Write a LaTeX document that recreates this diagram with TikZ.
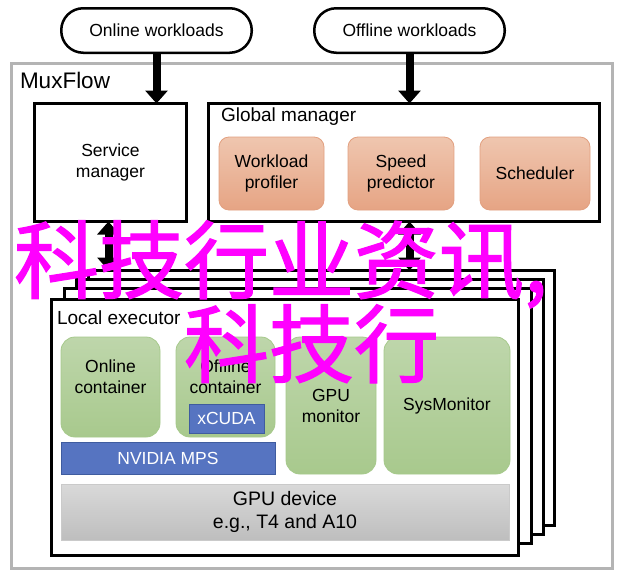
\documentclass[tikz,border=0pt]{standalone}
\usepackage{fontspec}
\setmainfont{Liberation Sans}
\newfontfamily\cjk{Noto Sans CJK SC}[FakeBold=1.5]
\usetikzlibrary{arrows.meta}
\definecolor{muxgray}{HTML}{B4B4B4}
\definecolor{otop}{HTML}{EFC6AF}
\definecolor{obot}{HTML}{E6A484}
\definecolor{oborder}{HTML}{E2A080}
\definecolor{gtop}{HTML}{BED6AB}
\definecolor{gbot}{HTML}{A8C98D}
\definecolor{gborder}{HTML}{A6C98B}
\definecolor{dtop}{HTML}{D9D9D9}
\definecolor{dbot}{HTML}{BEBEBE}
\definecolor{dborder}{HTML}{CACACA}
\definecolor{bfill}{HTML}{5674C1}
\definecolor{bborder}{HTML}{3F5C9F}
\definecolor{wmark}{HTML}{FF00FF}
\begin{document}
\begin{tikzpicture}[x=1pt,y=-1pt,
  every node/.style={inner sep=0pt,outer sep=0pt},
  txt/.style={font=\fontsize{17.5}{21}\selectfont,align=center},
  bigtxt/.style={font=\fontsize{19.5}{23}\selectfont,align=center},
  pill/.style={draw,line width=2.5pt,rounded corners=22pt,minimum width=190.5pt,minimum height=44.5pt,txt},
  blackbox/.style={draw,line width=3pt,fill=white},
  orangebox/.style={draw=oborder,line width=0.8pt,rounded corners=10pt,top color=otop,bottom color=obot,txt},
  greenbox/.style={draw=gborder,line width=0.8pt,rounded corners=14pt,top color=gtop,bottom color=gbot,txt},
  bluebox/.style={draw=bborder,line width=1pt,fill=bfill,text=white,txt},
  devbox/.style={draw=dborder,line width=0.8pt,top color=dtop,bottom color=dbot,bigtxt},
  bigarrow/.style={line width=8pt,-{Triangle[width=22pt,length=13pt]}},
  dblarrow/.style={line width=8pt,{Triangle[width=22pt,length=13pt]}-{Triangle[width=22pt,length=13pt]}},
  wm/.style={anchor=base west,font=\cjk\fontsize{85}{85}\selectfont,text=wmark}
]
\useasboundingbox (0,0) rectangle (624,582);
% outer MuxFlow frame
\node[draw=muxgray,line width=3pt,minimum width=601pt,minimum height=505pt] (mux) at (312,316) {};
\node[anchor=base west,font=\fontsize{22.5}{26}\selectfont] (muxlbl) at (20,88) {MuxFlow};
% workloads
\node[pill] (onl) at (156.5,30.5) {Online workloads};
\node[pill] (off) at (409.5,30.5) {Offline workloads};
% service manager
\node[blackbox,minimum width=152pt,minimum height=118pt,txt] (sm) at (110.5,162.5) {Service\\manager};
% global manager
\node[blackbox,minimum width=391pt,minimum height=118pt] (gm) at (404,162.5) {};
\node[anchor=base west,font=\fontsize{19}{23}\selectfont] (gmlbl) at (221,121) {Global manager};
\node[orangebox,minimum width=105pt,minimum height=73pt] (wp) at (271.5,173.5) {Workload\\profiler};
\node[orangebox,minimum width=106pt,minimum height=73pt] (sp) at (401,173.5) {Speed\\predictor};
\node[orangebox,minimum width=110pt,minimum height=73pt] (sch) at (535,173.5) {Scheduler};
% local executor stack
\node[blackbox,minimum width=466pt,minimum height=255pt] (f4) at (321.5,398) {};
\node[blackbox,minimum width=467pt,minimum height=255pt] (f3) at (310,407) {};
\node[blackbox,minimum width=467pt,minimum height=255pt] (f2) at (298,416) {};
\node[blackbox,minimum width=467pt,minimum height=256pt] (f1) at (285,427.5) {};
\node[anchor=base west,font=\fontsize{19}{23}\selectfont] (lelbl) at (57,324) {Local executor};
\node[greenbox,minimum width=99pt,minimum height=100pt] (onc) at (110.5,387) {};
\node[txt] (onct) at (110.5,377) {Online\\container};
\node[greenbox,minimum width=99pt,minimum height=100pt] (ofc) at (225.5,387) {};
\node[txt] (ofct) at (225.5,377) {Offline\\container};
\node[bluebox,minimum width=75pt,minimum height=29pt] (xc) at (226.5,418.5) {xCUDA};
\node[greenbox,minimum width=90pt,minimum height=137pt] (gpum) at (331,405.5) {GPU\\monitor};
\node[greenbox,minimum width=126pt,minimum height=137pt] (sysm) at (447,405.5) {SysMonitor};
\node[bluebox,minimum width=214pt,minimum height=32pt] (mps) at (168,458) {NVIDIA MPS};
\node[devbox,minimum width=448pt,minimum height=56pt] (dev) at (285,512) {GPU device\\e.g., T4 and A10};
% arrows
\draw[bigarrow] (onl.south) -- (onl.south |- sm.north);
\draw[bigarrow] (off.south) -- (off.south |- gm.north);
\draw[dblarrow] ([xshift=-2pt]sm.south) -- ([xshift=-2pt]sm.south |- f4.north);
\draw[dblarrow] (off.south |- gm.south) -- (off.south |- f4.north);
% watermark
\node[wm] (wm1) at (14,292) {科技行业资讯,};
\node[wm] (wm2) at (184,376) {科技行};
\end{tikzpicture}
\end{document}
